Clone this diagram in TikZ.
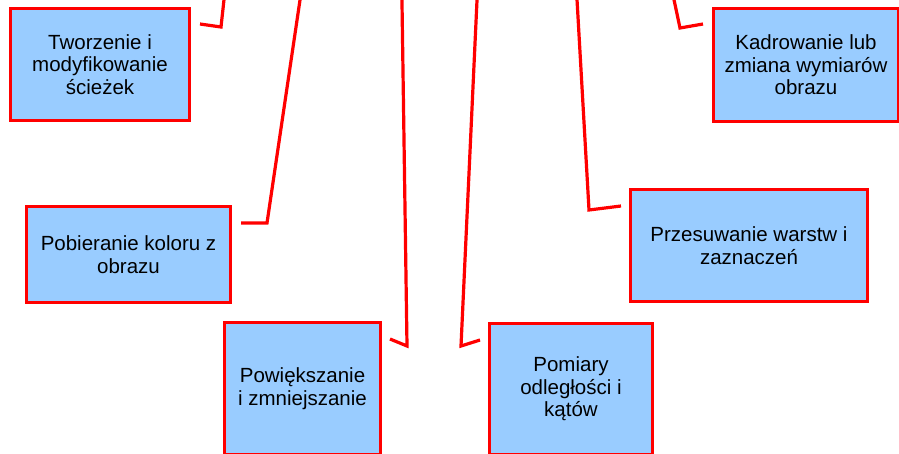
\documentclass[tikz,border=0pt]{standalone}
\usepackage{fontspec}
\setmainfont{Liberation Sans}
\definecolor{boxfill}{HTML}{99CCFF}
\definecolor{boxred}{HTML}{FF0000}
\tikzset{
  box/.style={draw=boxred, line width=3.2pt, fill=boxfill, align=center,
    font=\fontsize{20.5}{22.5}\selectfont, inner sep=0pt, text=black},
  conn/.style={draw=boxred, line width=3.2pt, line join=miter},
}
\begin{document}
\begin{tikzpicture}[x=1pt,y=-1pt]
\useasboundingbox (0,0) rectangle (899,453);
\clip (0,0) rectangle (899,453);
% boxes
\node[box, minimum width=179pt, minimum height=112pt] (b1) at (100,64.5) {Tworzenie i\\modyfikowanie\\ścieżek};
\node[box, minimum width=204pt, minimum height=96pt] (b2) at (128.5,254.5) {Pobieranie koloru z\\obrazu};
\node[box, minimum width=156pt, minimum height=132pt] (b3) at (302.5,388.5) {Powiększanie\\i zmniejszanie};
\node[box, minimum width=163pt, minimum height=131pt] (b4) at (571,389) {Pomiary\\odległości i\\kątów};
\node[box, minimum width=237pt, minimum height=112pt] (b5) at (749,245.5) {Przesuwanie warstw i\\zaznaczeń};
\node[box, minimum width=185pt, minimum height=113pt] (b6) at (806,65) {Kadrowanie lub\\zmiana wymiarów\\obrazu};
% connector points
\coordinate (s1) at (200,24);  \coordinate (k1) at (221,27);  \coordinate (t1) at (224.4,-4);
\coordinate (s2) at (241,223); \coordinate (k2) at (267,223); \coordinate (t2) at (300.6,-4);
\coordinate (s3) at (390,339); \coordinate (k3) at (407,346); \coordinate (t3) at (401.9,-4);
\coordinate (s4) at (480,340); \coordinate (k4) at (461,346); \coordinate (t4) at (477.2,-4);
\coordinate (s5) at (621,206); \coordinate (k5) at (589,210); \coordinate (t5) at (576.8,-4);
\coordinate (s6) at (703,24);  \coordinate (k6) at (680,28);  \coordinate (t6) at (673.2,-4);
\draw[conn] (s1) -- (k1) -- (t1);
\draw[conn] (s2) -- (k2) -- (t2);
\draw[conn] (s3) -- (k3) -- (t3);
\draw[conn] (s4) -- (k4) -- (t4);
\draw[conn] (s5) -- (k5) -- (t5);
\draw[conn] (s6) -- (k6) -- (t6);
\end{tikzpicture}
\end{document}
